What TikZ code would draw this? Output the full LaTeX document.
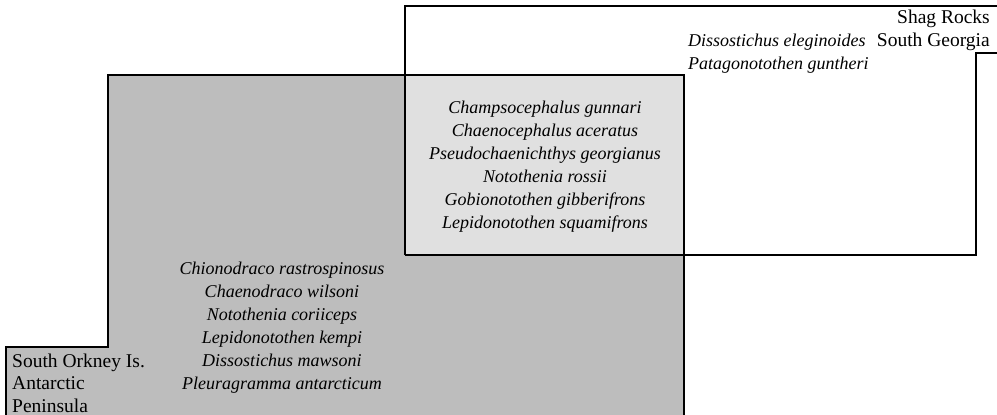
\documentclass[tikz,border=0pt]{standalone}
\usepackage{fontspec}
\setmainfont{Liberation Serif}
\definecolor{darkbox}{HTML}{BDBDBD}
\definecolor{lightbox}{HTML}{E0E0E0}
\begin{document}
\begin{tikzpicture}[x=1pt,y=-1pt,
  edge/.style={line width=1.5pt, line join=miter},
  sp/.style={font=\fontsize{18}{23}\selectfont\itshape, inner sep=0pt},
  lab/.style={font=\fontsize{19.5}{22.5}\selectfont, inner sep=0pt}]
\useasboundingbox (0,0) rectangle (997,415);
% regions
\fill[darkbox] (108,75) -- (684,75) -- (684,420) -- (6,420) -- (6,347) -- (108,347) -- cycle;
\fill[lightbox] (405,75) rectangle (684,255);
% outlines
\draw[edge] (405,255) -- (405,6) -- (1002,6);
\draw[edge] (1002,53) -- (976,53) -- (976,255) -- (405,255);
\draw[edge] (684,420) -- (684,75) -- (108,75) -- (108,347) -- (6,347) -- (6,420);
% texts
\node[lab, anchor=north east, align=right] (sg) at (990,10) {Shag Rocks\\South Georgia};
\node[sp, anchor=west, align=left] (dp) at (688,54) {Dissostichus eleginoides\\Patagonotothen guntheri};
\node[sp, align=center] (mid) at (545,167) {Champsocephalus gunnari\\Chaenocephalus aceratus\\Pseudochaenichthys georgianus\\Notothenia rossii\\Gobionotothen gibberifrons\\Lepidonotothen squamifrons};
\node[sp, align=center] (ant) at (282,328) {Chionodraco rastrospinosus\\Chaenodraco wilsoni\\Notothenia coriiceps\\Lepidonotothen kempi\\Dissostichus mawsoni\\Pleuragramma antarcticum};
\node[lab, anchor=west, align=left] (so) at (12,383) {South Orkney Is.\\Antarctic\\Peninsula};
\end{tikzpicture}
\end{document}
